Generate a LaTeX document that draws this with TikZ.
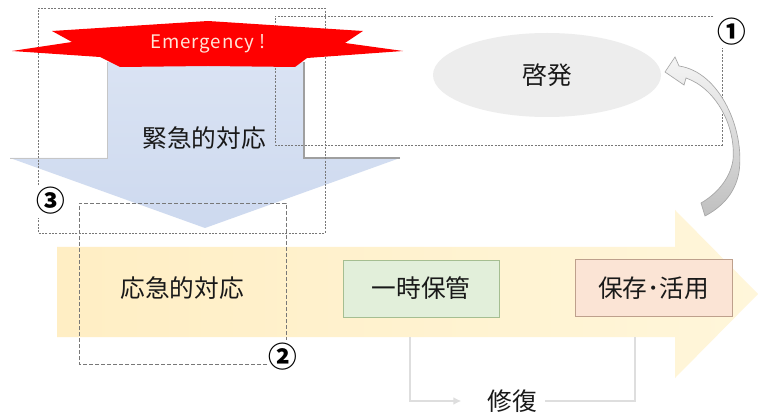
\documentclass[tikz,border=0pt]{standalone}
\usepackage{fontspec}
\setmainfont{Noto Sans CJK JP}
\usetikzlibrary{shapes.geometric,arrows.meta}
\definecolor{yelL}{RGB}{255,238,196}
\definecolor{yelR}{RGB}{255,246,218}
\definecolor{blueA}{RGB}{205,217,239}
\definecolor{blueB}{RGB}{218,227,243}
\definecolor{ellc}{RGB}{237,237,237}
\definecolor{grnF}{RGB}{226,239,218}
\definecolor{grnD}{RGB}{165,190,145}
\definecolor{pnkF}{RGB}{251,228,213}
\definecolor{pnkD}{RGB}{190,160,140}
\definecolor{redS}{RGB}{255,0,0}
\definecolor{emTxt}{RGB}{255,228,215}
\definecolor{loopc}{RGB}{222,222,222}
\definecolor{boxl}{RGB}{120,120,120}
\tikzset{
  jtext/.style={font=\fontsize{18.5}{20}\selectfont, text=black!90},
  numtext/.style={font=\fontsize{21.5}{23}\selectfont\bfseries, text=black, inner sep=0pt},
  dotbox/.style={draw=boxl, line width=0.6pt, dash pattern=on 1.5pt off 1pt},
  dashbox/.style={draw=boxl, line width=0.6pt, dash pattern=on 3pt off 1.5pt},
  tagbox/.style={jtext, rectangle, line width=0.6pt, minimum height=42.75pt, inner sep=0pt},
  loopline/.style={draw=loopc, line width=2.2pt},
}
\begin{document}
\begin{tikzpicture}[x=0.75pt,y=-0.75pt]
\useasboundingbox (0,0) rectangle (759,416);
\fill[white] (0,0) rectangle (759,416);

% big yellow arrow
\shade[left color=yelL, right color=yelR]
  (57,247) -- (675,247) -- (675,210) -- (758,294) -- (675,378) -- (675,337) -- (57,337) -- cycle;

% blue down arrow
\shade[top color=blueB, bottom color=blueA]
  (107,62) -- (304,62) -- (304,158) -- (400,158) -- (205,228) -- (10,158) -- (107,158) -- cycle;
\draw[gray!45, line width=0.7pt] (10,158) -- (107,158) -- (107,62);
\draw[gray!75, line width=0.9pt] (304,62) -- (304,158) -- (400,158);

% ellipse
\node[ellipse, fill=ellc, minimum width=171pt, minimum height=63pt, jtext] (kei) at (547,75) {啓発};

% text nodes on yellow arrow
\node[jtext] (ouk) at (182,288) {応急的対応};
\node[tagbox, fill=grnF, draw=grnD, minimum width=117pt] (ichi) at (421,288.5) {一時保管};
\node[tagbox, fill=pnkF, draw=pnkD, minimum width=117.75pt] (hozon) at (653.5,288) {保存･活用};
\node[jtext] (kin) at (204,138) {緊急的対応};
\node[jtext] (repair) at (512,401) {修復};

% repair loop
\coordinate (lA) at (410,337);
\coordinate (rA) at (635,337);
\draw[loopline, -{Latex[length=6pt,width=6pt]}] (lA) |- ([xshift=-16pt]repair.west);
\draw[loopline] ([xshift=3pt]repair.east) -| (rA);

% dashed boxes
\draw[dotbox] (38,185) -- (38,8) -- (325,8) -- (325,233) -- (38,233) -- (38,218);
\node[numtext] (n3) at (51,201) {③};
\draw[dotbox] (713,16) -- (275,16) -- (275,145) -- (722,145) -- (722,48);
\node[numtext] (n1) at (732,32) {①};
\draw[dashbox] (267,364) -- (79,364) -- (79,203) -- (286,203) -- (286,340);
\node[numtext] (n2) at (283,357) {②};

% red explosion banner
\fill[redS] (52,31) -- (208,21) -- (363,31) -- (345,43) -- (403,51) -- (307,58) -- (295,67)
  -- (208,66) -- (120,67) -- (100,57) -- (12,51) -- (72,42) -- cycle;
\node[font=\fontsize{14}{15}\selectfont\addfontfeature{LetterSpace=5}, text=emTxt] (em) at (208,44) {Emergency !};

% curved grey arrow
\shade[top color=gray!8, bottom color=gray!50, draw=gray!70, line width=0.5pt]
  (665,72) -- (675,57) -- (679,66)
  .. controls (720,72) and (745,130) .. (739,172)
  .. controls (735,195) and (720,208) .. (705,216)
  -- (701,203)
  .. controls (715,195) and (730,180) .. (733,160)
  .. controls (736,125) and (715,88) .. (686,78)
  -- (684,85) -- cycle;
\end{tikzpicture}
\end{document}
